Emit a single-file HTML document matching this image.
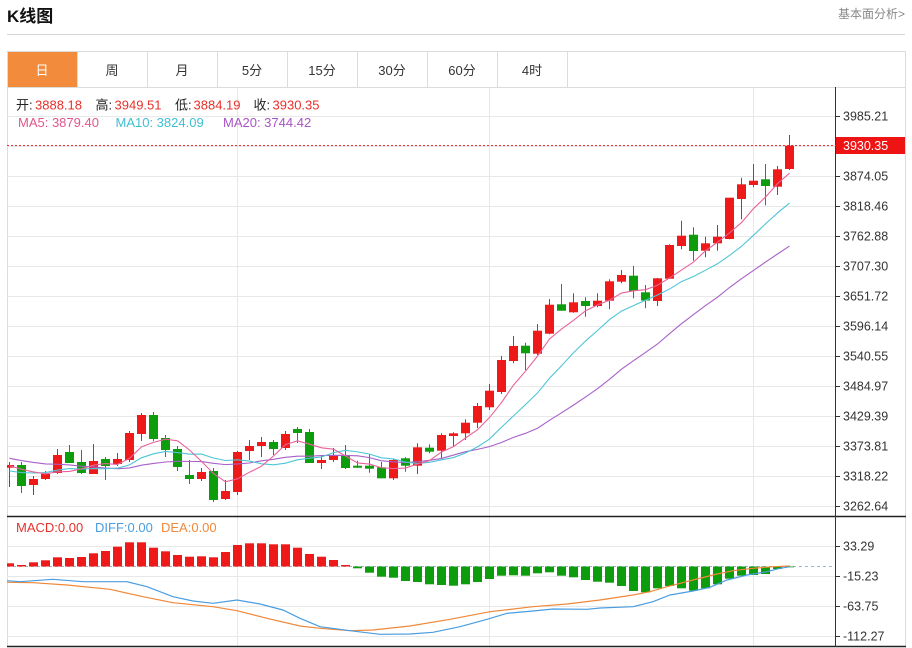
<!DOCTYPE html>
<html><head><meta charset="utf-8">
<style>
html,body{margin:0;padding:0;background:#fff}
body{width:912px;height:648px;overflow:hidden;position:relative;font-family:"Liberation Sans","Noto Sans CJK SC",sans-serif}
svg{position:absolute;left:0;top:0}
text{font-family:"Liberation Sans","Noto Sans CJK SC",sans-serif}
</style></head><body>
<svg id="s" width="912" height="648" xmlns="http://www.w3.org/2000/svg">
<defs>
<clipPath id="cm"><rect x="7" y="87" width="829" height="429"/></clipPath>
<clipPath id="cd"><rect x="7" y="517" width="829" height="129"/></clipPath>
</defs>
<!-- header -->
<text x="7" y="22" font-size="17" font-weight="bold" fill="#111">K线图</text>
<text x="905" y="18" font-size="12" fill="#888" text-anchor="end">基本面分析&gt;</text>
<line x1="7" y1="34.5" x2="905" y2="34.5" stroke="#d6d6d6"/>
<!-- tabs -->
<rect x="7" y="52" width="70" height="35" fill="#f28b3b"/>
<rect x="7.5" y="51.5" width="898" height="36" fill="none" stroke="#dcdcdc"/>
<g stroke="#dcdcdc">
<line x1="77.5" y1="52" x2="77.5" y2="87"/><line x1="147.5" y1="52" x2="147.5" y2="87"/>
<line x1="217.5" y1="52" x2="217.5" y2="87"/><line x1="287.5" y1="52" x2="287.5" y2="87"/>
<line x1="357.5" y1="52" x2="357.5" y2="87"/><line x1="427.5" y1="52" x2="427.5" y2="87"/>
<line x1="497.5" y1="52" x2="497.5" y2="87"/><line x1="567.5" y1="52" x2="567.5" y2="87"/>
</g>
<g font-size="13" text-anchor="middle" fill="#333">
<text x="42" y="75" fill="#fff">日</text><text x="112" y="75">周</text><text x="182" y="75">月</text>
<text x="252" y="75">5分</text><text x="322" y="75">15分</text><text x="392" y="75">30分</text>
<text x="462" y="75">60分</text><text x="532" y="75">4时</text>
</g>
<!-- frame -->
<line x1="7.5" y1="87" x2="7.5" y2="647" stroke="#dcdcdc"/>
<line x1="905.5" y1="52" x2="905.5" y2="647" stroke="#dcdcdc"/>
<g id="grid" stroke="#e8e8e8"></g>
<line x1="7" y1="516.5" x2="906" y2="516.5" stroke="#222" stroke-width="1.5"/>
<line x1="7" y1="646.5" x2="906" y2="646.5" stroke="#222" stroke-width="1.5"/>
<line x1="835.5" y1="87" x2="835.5" y2="647" stroke="#333"/>
<g id="ticks" stroke="#333"></g>
<g font-size="12.5" fill="#333">
<text x="843" y="120.5">3985.21</text>
<text x="843" y="180.5">3874.05</text>
<text x="843" y="210.5">3818.46</text>
<text x="843" y="240.5">3762.88</text>
<text x="843" y="270.5">3707.30</text>
<text x="843" y="300.5">3651.72</text>
<text x="843" y="330.5">3596.14</text>
<text x="843" y="360.5">3540.55</text>
<text x="843" y="390.5">3484.97</text>
<text x="843" y="420.5">3429.39</text>
<text x="843" y="450.5">3373.81</text>
<text x="843" y="480.5">3318.22</text>
<text x="843" y="510.5">3262.64</text>
<text x="843" y="550.5">33.29</text>
<text x="843" y="580.5">-15.23</text>
<text x="843" y="610.5">-63.75</text>
<text x="843" y="640.5">-112.27</text>
</g>
<!-- info -->
<g font-size="13">
<text x="16" y="109.5" fill="#222">开:</text><text x="35" y="109.5" fill="#e8312a">3888.18</text>
<text x="95.5" y="109.5" fill="#222">高:</text><text x="114.5" y="109.5" fill="#e8312a">3949.51</text>
<text x="175" y="109.5" fill="#222">低:</text><text x="193.5" y="109.5" fill="#e8312a">3884.19</text>
<text x="253.5" y="109.5" fill="#222">收:</text><text x="272.5" y="109.5" fill="#e8312a">3930.35</text>
<text x="18" y="127" fill="#e2558c">MA5: 3879.40</text>
<text x="115.5" y="127" fill="#3fbfd2">MA10: 3824.09</text>
<text x="223" y="127" fill="#a953c4">MA20: 3744.42</text>
<text x="16" y="532" fill="#e8312a">MACD:0.00</text>
<text x="95" y="532" fill="#4a9de0">DIFF:0.00</text>
<text x="161" y="532" fill="#f0883a">DEA:0.00</text>
</g>
<g id="main" clip-path="url(#cm)"></g>
<g id="macd" clip-path="url(#cd)"></g>
<!-- current price -->
<line x1="7" y1="145.5" x2="836" y2="145.5" stroke="#e53030" stroke-dasharray="2 2"/>
<rect x="836" y="137" width="69" height="17" fill="#ee1414"/>
<text x="843" y="150" font-size="12.5" fill="#fff">3930.35</text>
</svg>
<script>
(function(){
var ns="http://www.w3.org/2000/svg";
function el(p,t,a){var e=document.createElementNS(ns,t);for(var k in a)e.setAttribute(k,a[k]);p.appendChild(e);return e;}
var grid=document.getElementById('grid'),ticks=document.getElementById('ticks');
for(var k=0;k<14;k++){var y=116.5+30*k;el(grid,'line',{x1:7,y1:y,x2:835,y2:y});el(ticks,'line',{x1:836,y1:y,x2:840,y2:y});}
[546.5,576.5,606.5,636.5].forEach(function(y){el(grid,'line',{x1:7,y1:y,x2:835,y2:y});el(ticks,'line',{x1:836,y1:y,x2:840,y2:y});});
[237.5,489.5,753.5].forEach(function(x){el(grid,'line',{x1:x,y1:88,x2:x,y2:646});});
var C=[[467.7,465,462,487],[465,486,462,493],[485,479,476,495],[479,474,471,480],[473,455,449,474],[452,463,445,463],[462,473,450,474],[474,461,444,474],[459,466,457,480],[464,459,453,466],
[460,433,431,462],[434,415,413,441],[415,439,412,441],[438,450,435,457],[449,467,446,471],[475,479,460,484],[479,472,468,481],[471,500,468,502],[499,491,480,500],[492,452,451,495],
[451,446,440,460],[446,442,437,457],[442,449,440,455],[448,434,431,450],[429,433,427,443],[432,463,429,463],[463,460,455,469],[460,456,448,462],[455,468,445,469],[465.7,467.7,460.7,468],
[465.7,468.7,454,472.7],[467.3,478.3,462,478.3],[478.3,460,459,480],[458.3,465.7,457.3,471.7],[465.7,447.3,443.3,474],[447.7,451.7,444.3,453.3],[450.7,435,433.3,458.3],[436,433.3,432.3,446.7],[433.3,422.7,419.3,440],[422.7,406,403,428],
[407.3,390.7,384,410],[392,360,356,394],[361,346,336,363.3],[345.7,353.3,342.7,370],[353.7,330.7,324,355],[333.7,304.7,299,334.3],[304.3,310.7,284,310.7],[312.3,302.3,293.3,312.7],[301,306,297.3,316.7],[306,300.7,293.3,307.3],
[300.7,281.3,279.3,309.3],[281.7,275,270,283.3],[275.7,291,266,298.3],[292.3,300.5,285,308.3],[301,278.3,278,306],[278.7,245,244.3,278.7],[246,235.7,220.7,249.3],[234.7,251,227.3,260.7],[250.7,243.3,236.7,257.3],[243.3,236.7,225,250.7],
[239,197.7,197.7,239.3],[199,184.3,177.7,219.3],[185,180.7,164,187.3],[179.3,186,164,205.3],[186.7,169.3,166,195],[169,145.7,135,170]];
var RED="#ee1a1a",GRN="#0c9c0c";
var main=document.getElementById('main');
C.forEach(function(c,i){
 var up=c[1]<c[0],col=up?RED:GRN,cx=9.5+12*i;
 el(main,'line',{x1:cx,y1:c[2],x2:cx,y2:c[3],stroke:col,'stroke-width':1});
 var t=Math.min(c[0],c[1]),b=Math.max(c[0],c[1]);
 el(main,'rect',{x:5+12*i,y:t,width:9,height:Math.max(1.2,b-t),fill:col});
});
var pre=[440,442,445,448,450,447,446,444,447,447,470,475,478,480,478.5,468,466,464,465.5];
var cl=pre.concat(C.map(function(c){return c[1];}));
function ma(n,col){var pts=[];for(var i=0;i<C.length;i++){var j=i+19,s=0;for(var k=j-n+1;k<=j;k++)s+=cl[k];pts.push((9.5+12*i)+','+(s/n).toFixed(2));}
 el(main,'polyline',{points:pts.join(' '),fill:'none',stroke:col,'stroke-width':1.1});}
ma(20,'#a860c8');ma(10,'#4ec5d6');ma(5,'#e8629b');
var macd=document.getElementById('macd');
el(macd,'line',{x1:7,y1:566.5,x2:835,y2:566.5,stroke:'#9bb6cf','stroke-dasharray':'3 3'});
var B=[563.3,565,562.3,560.3,557.3,558,557,553.3,551,546.7,542.3,542.3,547.7,551.3,555,556.7,556.3,557.3,552,545,543.3,543.3,544.3,544.3,547.7,554,556.7,560,565,568.3,572.7,576.7,577.7,581,582,584.3,585,585.7,584.3,582,579,575.7,575.3,575.7,573.3,572.3,575.7,577.3,580,581.7,582.7,586,591,592.3,588.3,586,588.3,590.7,588.3,584.3,578.7,575.7,575,574,569,567.3];
var Z=566.5;
B.forEach(function(v,i){var t=Math.min(v,Z),h=Math.abs(v-Z);if(h<0.6)return;el(macd,'rect',{x:5+12*i,y:t,width:9,height:h,fill:v<Z?RED:GRN});});
var DIFF=[[7,580.7],[20,581.7],[53,579.3],[83,581.7],[127,581.7],[147,586.7],[173,596.7],[193,601],[213,603.3],[237,600],[260,604],[283,610],[300,618.3],[320,626.7],[350,630.7],[380,634.3],[410,634],[433,632.3],[460,626.7],[487,619.3],[507,613.3],[533,611],[553,609],[587,609.3],[600,608],[633,606.7],[653,601.7],[670,595],[693,591],[710,587.3],[727,580],[747,575],[767,571.7],[780,568.3],[790,566.7]];
var DEA=[[7,582.3],[33,582.7],[67,585],[110,589.3],[143,596.7],[173,602.7],[213,606.7],[237,610.7],[267,618.3],[300,626],[320,628.3],[350,630.7],[373,630],[410,626],[450,619.3],[490,611.7],[533,606.7],[567,604],[600,600],[633,595],[650,591.7],[667,586.7],[693,580],[717,574],[733,570.7],[753,568.3],[773,566.7],[790,566]];
el(macd,'polyline',{points:DEA.map(function(p){return p.join(',');}).join(' '),fill:'none',stroke:'#f0883a','stroke-width':1.2});
el(macd,'polyline',{points:DIFF.map(function(p){return p.join(',');}).join(' '),fill:'none',stroke:'#4a9de0','stroke-width':1.2});
})();
</script>
</body></html>
